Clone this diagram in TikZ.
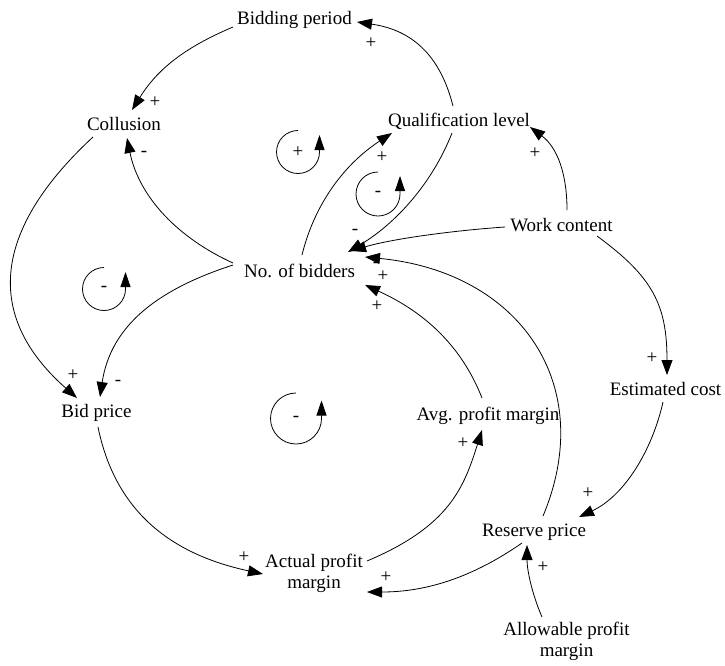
\documentclass[tikz,border=0pt]{standalone}
\usepackage{fontspec}
\setmainfont{Liberation Serif}
\usetikzlibrary{arrows.meta,calc}
\begin{document}
\begin{tikzpicture}[x=1pt,y=-1pt,
  var/.style={inner sep=0pt, font=\fontsize{19}{21}\selectfont, anchor=base},
  vartwo/.style={inner sep=0pt, font=\fontsize{19}{21}\selectfont, anchor=north, align=center},
  sgn/.style={inner sep=0pt, font=\fontsize{19}{21}\selectfont},
  link/.style={line width=0.8pt, -{Triangle[length=15pt,width=11pt]}},
  loopln/.style={line width=0.8pt, -{Triangle[length=15pt,width=10pt]}}]
\useasboundingbox (0,0) rectangle (725,665);
% variables
\node[var] (bid) at (294.5,24) {Bidding period};
\node[var] (col) at (124,130.5) {Collusion};
\node[var] (qual) at (459,126) {Qualification level};
\node[var] (work) at (561.5,231) {Work content};
\node[var] (nob) at (299.5,277.5) {No. of bidders};
\node[var] (bp) at (96.5,417.5) {Bid price};
\node[var] (avg) at (488,420) {Avg. profit margin};
\node[var] (est) at (665.5,395) {Estimated cost};
\node[var] (res) at (534,536.5) {Reserve price};
\node[vartwo] (act) at (314,554) {Actual profit\\margin};
\node[vartwo] (allow) at (566.5,622) {Allowable profit\\margin};
% links
\draw[link] ($(qual.base)+(-6,-20)$) .. controls (440,55) and (412,30) .. ($(bid.base)+(62.5,-2)$);
\draw[link] ($(bid.base)+(-61.5,3)$) .. controls (187,46.5) and (158.5,67.5) .. ($(col.base)+(8,-20.5)$);
\draw[link] ($(nob.base)+(-66.5,-14.5)$) .. controls (178,238) and (139,197) .. ($(col.base)+(3,7.5)$);
\draw[link] ($(col.base)+(-31,6.5)$) .. controls (-2,225) and (-20.5,312) .. ($(bp.base)+(-19.5,-19.5)$);
\draw[link] ($(nob.base)+(-66.5,-12.5)$) .. controls (162,288) and (111,323) .. ($(bp.base)+(3.5,-20.5)$);
\draw[link] ($(nob.base)+(2.5,-22.5)$) .. controls (315,202) and (346,163) .. ($(qual.base)+(-67,7)$);
\draw[link] ($(qual.base)+(-7,7)$) .. controls (432,184) and (395,224) .. ($(nob.base)+(48.5,-25.5)$);
\draw[link] ($(work.base)+(-56.5,-4)$) .. controls (460,230) and (395,238) .. ($(nob.base)+(51.5,-26.5)$);
\draw[link] ($(res.base)+(9,-20.5)$) .. controls (598,385) and (520,272) .. ($(nob.base)+(65.5,-20.5)$);
\draw[link] ($(avg.base)+(-6,-22)$) .. controls (460,342) and (420,310) .. ($(nob.base)+(65.5,7.5)$);
\draw[link] ($(work.base)+(5.5,-21)$) .. controls (567,175) and (558,148) .. ($(qual.base)+(71,1)$);
\draw[link] ($(work.base)+(35.5,5)$) .. controls (653,277) and (667,305) .. ($(est.base)+(1.5,-20)$);
\draw[link] ($(est.base)+(-2.5,7)$) .. controls (652,451) and (624,496) .. ($(res.base)+(45,-19.5)$);
\draw[link] ($(allow.north)+(-24.5,-5)$) .. controls (532,594) and (527,570) .. ($(res.base)+(-7,8.5)$);
\draw[link] ($(res.base)+(-12,6.5)$) .. controls (473,577) and (427,592) .. ($(act.north)+(53,38)$);
\draw[link] ($(bp.base)+(1.5,9.5)$) .. controls (116,515) and (175,555) .. ($(act.north)+(-51,20)$);
\draw[link] ($(act.north)+(53,7)$) .. controls (450,526) and (464,487) .. ($(avg.base)+(-6,10)$);
% polarity signs
\node[sgn] (s1) at (371,43) {+};
\node[sgn] (s2) at (155,102) {+};
\node[sgn] (s3) at (144,154) {-};
\node[sgn] (s4) at (73,375) {+};
\node[sgn] (s5) at (118,383) {-};
\node[sgn] (s6) at (382,157) {+};
\node[sgn] (s7) at (355,232) {-};
\node[sgn] (s8) at (376,265) {-};
\node[sgn] (s9) at (383,276) {+};
\node[sgn] (s10) at (377,306) {+};
\node[sgn] (s11) at (535,153) {+};
\node[sgn] (s12) at (652,358) {+};
\node[sgn] (s13) at (588,493) {+};
\node[sgn] (s14) at (543,567) {+};
\node[sgn] (s15) at (386,577) {+};
\node[sgn] (s16) at (244,557) {+};
\node[sgn] (s17) at (463,443) {+};
% loop markers
\node[sgn] (l1) at (298,152) {+};
\draw[loopln] ($(l1)+(0,-21.5)$) arc[start angle=-90, end angle=-360, radius=21.5] -- ++(0,-17);
\node[sgn] (l2) at (378,194) {-};
\draw[loopln] ($(l2)+(0,-22)$) arc[start angle=-90, end angle=-360, radius=22] -- ++(0,-18);
\node[sgn] (l3) at (104,289) {-};
\draw[loopln] ($(l3)+(0,-21.5)$) arc[start angle=-90, end angle=-360, radius=21.5] -- ++(0,-17);
\node[sgn] (l4) at (296,418.5) {-};
\draw[loopln] ($(l4)+(0,-25.5)$) arc[start angle=-90, end angle=-360, radius=25.5] -- ++(0,-18);
\end{tikzpicture}
\end{document}
